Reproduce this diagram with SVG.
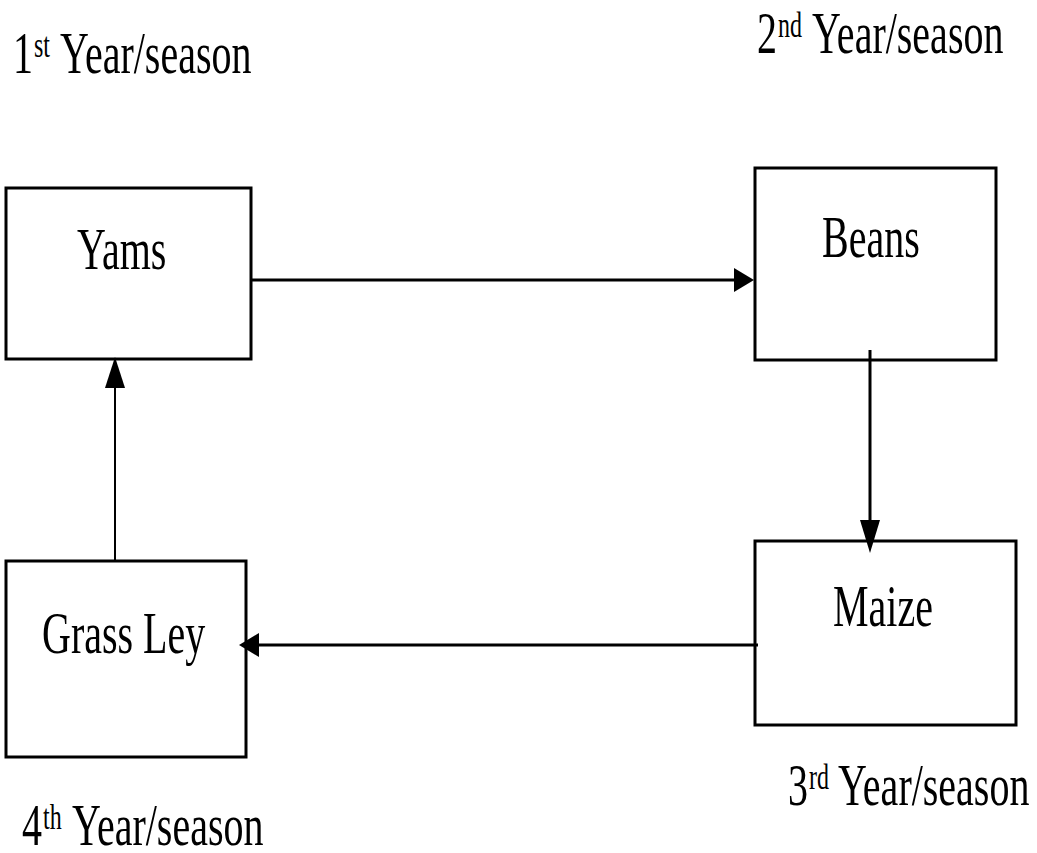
<svg xmlns="http://www.w3.org/2000/svg" width="1037" height="853" viewBox="0 0 1037 853">
<style>
.box{fill:#fff;stroke:#000;stroke-width:3}
.t{font-family:"Liberation Serif","Times New Roman",serif;font-size:40px;fill:#000}
.sup{font-size:24px}
.ln{stroke:#000;stroke-width:3;fill:none}
.thin{stroke-width:2}
.ah{fill:#000}
</style>
<rect width="1037" height="853" fill="#fff"/>
<g id="label1"><text class="t" transform="translate(0,73) scale(1,1.5)"><tspan x="13">1</tspan><tspan class="sup" x="34" dy="-11">st</tspan><tspan x="60" dy="11">Year/season</tspan></text></g>
<g id="label2"><text class="t" transform="translate(0,53) scale(1,1.5)"><tspan x="757">2</tspan><tspan class="sup" x="778" dy="-11">nd</tspan><tspan x="812" dy="11">Year/season</tspan></text></g>
<g id="label3"><text class="t" transform="translate(0,805) scale(1,1.5)"><tspan x="788">3</tspan><tspan class="sup" x="809" dy="-11">rd</tspan><tspan x="838" dy="11">Year/season</tspan></text></g>
<g id="label4"><text class="t" transform="translate(0,845) scale(1,1.5)"><tspan x="22">4</tspan><tspan class="sup" x="43" dy="-11">th</tspan><tspan x="72" dy="11">Year/season</tspan></text></g>
<g id="yams"><rect class="box" x="6" y="188" width="245" height="171"/><text class="t" transform="translate(77,269) scale(1,1.5)">Yams</text></g>
<g id="beans"><rect class="box" x="755" y="168" width="241" height="192"/><text class="t" transform="translate(822,257) scale(1,1.5)">Beans</text></g>
<g id="maize"><rect class="box" x="755" y="541" width="261" height="184"/><text class="t" transform="translate(833,626) scale(1,1.5)">Maize</text></g>
<g id="grassley"><rect class="box" x="6" y="561" width="240" height="196"/><text class="t" transform="translate(42,653) scale(1,1.5)">Grass Ley</text></g>
<g id="connectors">
<line class="ln" x1="252" y1="280" x2="740" y2="280"/>
<polygon class="ah" points="754,280 734,268 734,292"/>
<line class="ln" x1="870" y1="350" x2="870" y2="525"/>
<polygon class="ah" points="870,553 860,520 880,520"/>
<line class="ln" x1="758" y1="645" x2="255" y2="645"/>
<polygon class="ah" points="239,645 259,633 259,657"/>
<line class="ln thin" x1="115" y1="561" x2="115" y2="385"/>
<polygon class="ah" points="115,357 105,388 125,388"/>
</g>
</svg>
